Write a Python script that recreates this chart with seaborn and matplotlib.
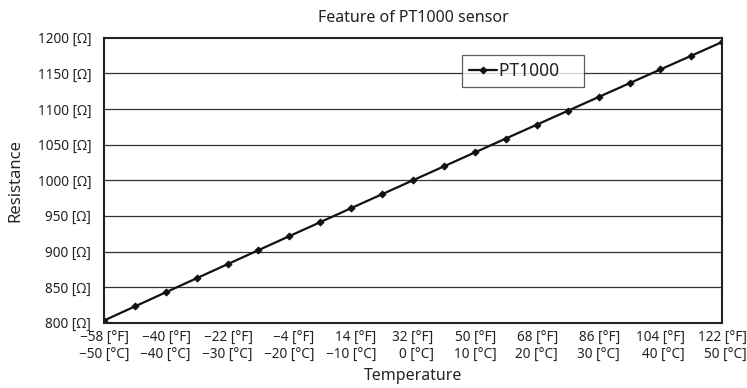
import numpy as np
import pandas as pd
import seaborn as sns
from matplotlib import pyplot as plt

# PT1000 resistance table, every 5 degC
temp_c = [-50, -45, -40, -35, -30, -25, -20, -15, -10, -5, 0,
          5, 10, 15, 20, 25, 30, 35, 40, 45, 50]
resistance = [803.1, 822.9, 842.7, 862.5, 882.2, 901.9, 921.6, 941.2, 960.9, 980.4, 1000.0,
              1019.5, 1039.0, 1058.5, 1077.9, 1097.3, 1116.7, 1136.1, 1155.4, 1174.7, 1194.0]

tick_c = [-50, -40, -30, -20, -10, 0, 10, 20, 30, 40, 50]
tick_f = [-58, -40, -22, -4, 14, 32, 50, 68, 86, 104, 122]
tick_ohm = [800, 850, 900, 950, 1000, 1050, 1100, 1150, 1200]

df = pd.DataFrame({'temp': temp_c, 'res': resistance, 'sensor': 'PT1000'})

sns.set_style('white')
plt.rcParams['font.family'] = ['Noto Sans', 'DejaVu Sans']
plt.rcParams['font.size'] = 9
plt.rcParams['text.color'] = '#222222'

fig, ax = plt.subplots(figsize=(7.47, 3.88), dpi=100)
fig.subplots_adjust(left=0.139, right=0.967, top=0.903, bottom=0.168)

sns.lineplot(data=df, x='temp', y='res', hue='sensor', palette=['#111111'],
             marker='D', markersize=3.5, markeredgecolor='#111111',
             linewidth=1.6, ax=ax)

ax.set_xlim(-50, 50)
ax.set_ylim(800, 1200)
ax.set_yticks(tick_ohm)
ax.set_yticklabels(['{} [Ω]'.format(v) for v in tick_ohm], fontsize=9.8)
ax.set_xticks(tick_c)
lbls = []
for f, c in zip(tick_f, tick_c):
    lbls.append('{} [°F]\n{} [°C]'.format(str(f).replace('-', '−'),
                                          str(c).replace('-', '−')))
ax.set_xticklabels(lbls, multialignment='right', linespacing=1.15, fontsize=9.8)
ax.tick_params(axis='x', direction='in', length=3, width=0.8, pad=6, colors='#222222')
ax.tick_params(axis='y', length=0, pad=9, colors='#222222')

for v in tick_ohm[1:-1]:
    ax.axhline(v, color='#333333', lw=0.9, zorder=0)

for s in ax.spines.values():
    s.set_color('#222222')
    s.set_linewidth(1.5)

ax.set_title('Feature of PT1000 sensor', fontsize=11.5, pad=11)
ax.set_xlabel('Temperature', fontsize=11.5, labelpad=4)
ax.set_ylabel('Resistance', fontsize=12, labelpad=10)

leg = ax.legend(loc='upper left', bbox_to_anchor=(0.579, 0.939), fontsize=12.5,
                frameon=True, fancybox=False, handlelength=1.6, handletextpad=0.15,
                borderpad=0.4, borderaxespad=0)
leg.get_texts()[0].set_text('PT1000    ')
leg.get_frame().set_edgecolor('#333333')
leg.get_frame().set_linewidth(0.9)

fig.savefig('out.png', dpi=100)
